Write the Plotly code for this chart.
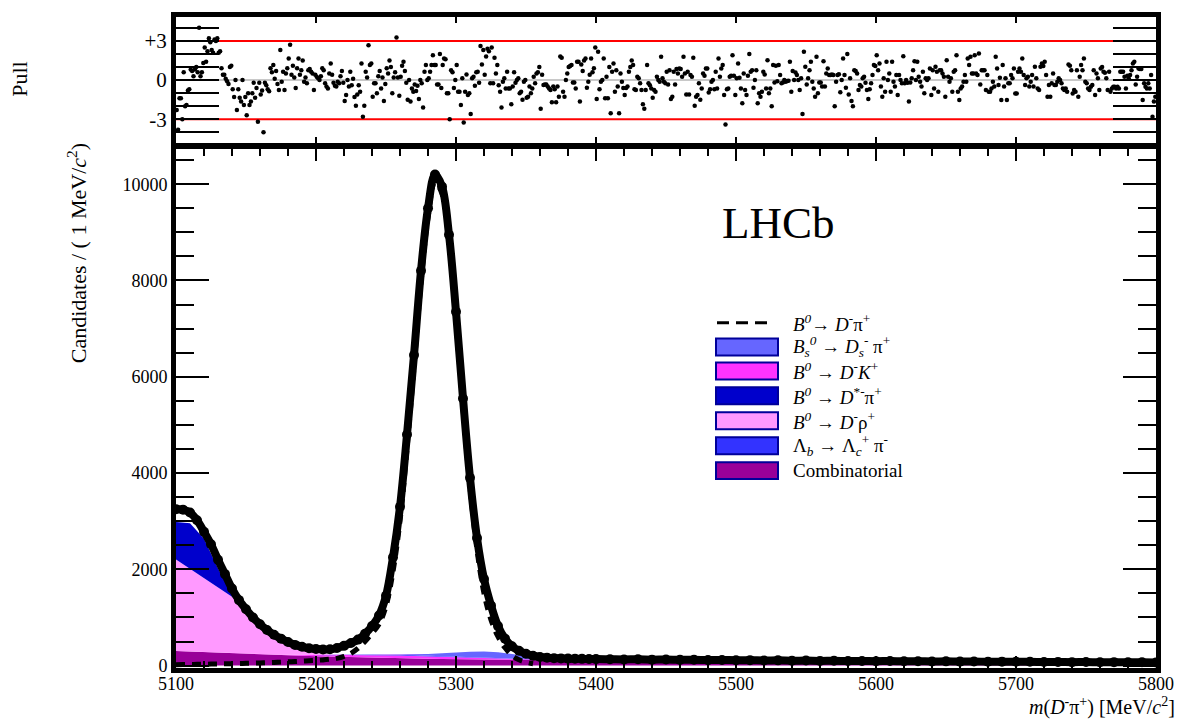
import plotly.graph_objects as go

# ---------------- data ----------------
data_x = [5100, 5105, 5110, 5115, 5120, 5125, 5130, 5135, 5140, 5145,
          5150, 5155, 5160, 5165, 5170, 5175, 5180, 5185, 5190, 5195,
          5200, 5205, 5210, 5215, 5220, 5225, 5230, 5235, 5240, 5245,
          5250, 5255, 5260, 5265, 5270, 5275, 5280, 5285, 5290, 5295,
          5300, 5305, 5310, 5315, 5320, 5325, 5330, 5335, 5340, 5345,
          5350, 5355, 5360, 5365, 5370, 5375, 5380, 5385, 5390, 5395, 5400,
          5410, 5420, 5430, 5440, 5450, 5460, 5470, 5480, 5490, 5500,
          5510, 5520, 5530, 5540, 5550, 5560, 5570, 5580, 5590, 5600,
          5610, 5620, 5630, 5640, 5650, 5660, 5670, 5680, 5690, 5700,
          5710, 5720, 5730, 5740, 5750, 5760, 5770, 5780, 5790, 5800]
data_y = [3250, 3240, 3180, 3020, 2780, 2520, 2200, 1900, 1600, 1360,
          1170, 1000, 860, 740, 640, 560, 490, 430, 390, 360,
          345, 335, 340, 365, 410, 470, 540, 660, 820, 1040,
          1450, 2250, 3300, 4800, 6450, 8200, 9500, 10200, 9950, 8950,
          7350, 5550, 3900, 2650, 1800, 1250, 820, 560, 400, 310,
          245, 205, 180, 165, 155, 150, 145, 142, 140, 138, 135,
          133, 128, 131, 124, 126, 119, 121, 114, 117, 111,
          113, 106, 109, 102, 104, 98, 101, 95, 97, 92,
          94, 89, 91, 86, 88, 83, 85, 80, 82, 78,
          79, 75, 77, 72, 74, 70, 72, 68, 69, 66]

sig_x = [5100, 5105, 5110, 5115, 5120, 5125, 5130, 5135, 5140, 5145,
         5150, 5155, 5160, 5165, 5170, 5175, 5180, 5185, 5190, 5195,
         5200, 5205, 5210, 5215, 5220, 5225, 5230, 5235, 5240, 5245,
         5250, 5255, 5260, 5265, 5270, 5275, 5280, 5285, 5290, 5295,
         5300, 5305, 5310, 5315, 5320, 5325, 5330, 5335, 5340, 5345,
         5350, 5355]
sig_y = [20, 22, 24, 26, 28, 31, 34, 37, 40, 44,
         48, 52, 56, 61, 66, 72, 78, 85, 93, 100,
         108, 118, 132, 150, 190, 255, 360, 500, 670, 860,
         1230, 1950, 3000, 4500, 6200, 7950, 9300, 10050, 9800, 8800,
         7150, 5350, 3700, 2400, 1500, 950, 600, 370, 210, 120,
         70, 40]

comp_x = [5100, 5110, 5120, 5130, 5140, 5150, 5160, 5170, 5180, 5190,
          5200, 5210, 5220, 5230, 5240, 5250, 5260, 5270, 5280, 5290,
          5300, 5310, 5320, 5330, 5340, 5350, 5360, 5370, 5380, 5390,
          5400, 5450, 5500, 5550, 5600, 5650, 5700, 5750, 5800]
comb_y = [305, 292, 280, 268, 257, 246, 235, 224, 214, 204,
          195, 187, 180, 173, 166, 160, 154, 148, 143, 138,
          133, 128, 124, 120, 116, 112, 109, 106, 103, 100,
          97, 88, 80, 73, 67, 62, 57, 53, 50]
dk_y = [0, 0, 0, 0, 2, 4, 6, 9, 12, 16,
        22, 30, 38, 45, 50, 53, 54, 52, 48, 43,
        37, 30, 24, 18, 12, 8, 4, 2, 1, 0,
        0, 0, 0, 0, 0, 0, 0, 0, 0]
lb_y = [0, 0, 0, 0, 0, 0, 0, 0, 0, 2,
        4, 6, 8, 10, 12, 14, 16, 17, 18, 19,
        20, 20, 20, 19, 18, 16, 14, 12, 10, 8,
        7, 3, 1, 0, 0, 0, 0, 0, 0]
bs_y = [0, 0, 0, 0, 0, 0, 0, 0, 0, 0,
        0, 0, 0, 0, 0, 0, 5, 15, 30, 55,
        85, 110, 125, 120, 95, 60, 30, 12, 4, 1,
        0, 0, 0, 0, 0, 0, 0, 0, 0]
rho_y = [1900, 1720, 1535, 1350, 1170, 900, 570, 340, 190, 95,
         40, 15, 5, 0, 0, 0, 0, 0, 0, 0,
         0, 0, 0, 0, 0, 0, 0, 0, 0, 0,
         0, 0, 0, 0, 0, 0, 0, 0, 0]
dst_y = [780, 945, 820, 400, 40, 0, 0, 0, 0, 0,
         0, 0, 0, 0, 0, 0, 0, 0, 0, 0,
         0, 0, 0, 0, 0, 0, 0, 0, 0, 0,
         0, 0, 0, 0, 0, 0, 0, 0, 0]

# pulls, one per 1 MeV bin starting at 5100
pulls = [
    -2.3, -3.8, -1.4, -1.4, -3.0, 0.6, -2.0, -1.9, -0.8, -0.7,
    0.8, 0.7, 0.3, 0.8, 1.0, 0.6, 4.0, 0.3, 0.6, 1.3,
    2.5, 1.4, 2.2, 3.2, 2.9, 2.3, 2.1, 3.1, 3.0, 3.2,
    2.1, 2.2, 0.9, 0.4, 0.4, 0.1, -0.1, -0.3, 1.0, 1.1,
    -0.7, -1.3, 0.0, -2.3, -0.7, -1.35, -1.65, 0.0, -1.9, -1.3,
    -2.7, -1.0, -1.9, -1.65, -1.0, -0.2, -1.35, -0.6, -3.2, -0.2,
    -1.1, -0.8, -4.0, -0.2, -0.4, -0.7, -0.85, 0.9, 0.6, 1.15,
    0.1, 0.7, -0.3, -0.76, 2.3, -0.13, 0.64, -0.76, 0.5, 0.9,
    1.65, 2.7, 0.4, 1.1, 0.2, -0.6, 0.9, 1.65, 0.4, 0.76,
    1.5, -0.13, 0.2, -0.25, 0.76, 0.84, 0.64, 0.5, -0.76, 0.4,
    0.25, 0.13, 0.0, 0.3, 0.9, 0.76, -0.25, -0.5, -0.64, 0.5,
    1.27, 0.4, -0.2, -0.43, -0.5, -0.13, -0.25, 0.3, 0.7, -0.2,
    -1.6, -1.15, 0.0, -0.5, 0.64, -0.4, 0.1, -1.3, -1.96, -1.1,
    -0.4, -0.9, 1.27, -2.8, -1.96, 0.64, 0.2, 2.67, 1.15, 1.27,
    -1.27, -0.25, -0.25, -1.0, 0.3, 0.7, -0.64, 0.2, -1.6, -0.3,
    0.9, 0.5, 1.5, 1.0, -1.0, 0.2, 0.6, 3.26, 0.2, -1.2,
    0.25, 1.1, 1.4, 0.7, -0.2, -1.5, 0.0, -1.65, -0.64, -0.9,
    -0.33, -0.84, -0.43, -1.45, 0.0, -0.25, -2.1, 0.64, 1.15, 0.0,
    0.13, 0.64, 1.15, 1.9, 1.15, 1.15, -0.33, -0.33, 2.0, -0.6,
    1.15, 1.65, 1.6, -1.0, -1.0, -3.0, 0.76, 0.6, -0.6, 0.0,
    1.15, -0.9, -0.9, -1.9, 0.13, -3.25, -0.9, 0.43, -1.15, -1.0,
    -2.6, 0.13, 0.25, -0.43, 0.6, 0.64, -0.2, 2.6, 1.2, 2.3,
    0.4, 1.8, 2.4, 2.2, -0.25, 2.5, -0.25, 1.7, 0.5, 1.15,
    -0.4, -0.9, -2.1, -0.13, 0.13, -0.64, 0.64, -0.64, -0.64, -1.86,
    -0.5, 0.6, -0.2, 0.0, 0.13, -1.0, -0.9, -1.5, -0.13, 0.0,
    -1.35, -1.27, -0.5, -1.0, -0.64, 0.25, -0.25, 0.5, 0.6, 1.0,
    -2.2, 0.4, -0.38, -0.33, -0.33, -0.5, -0.64, -0.76, -1.7, -0.5,
    -0.7, -1.7, -0.5, -1.27, 1.8, 1.7, -0.9, -1.27, 0.0, 0.5,
    1.0, 1.07, 1.15, -0.18, -0.18, -0.64, 1.4, 1.4, -1.65, 1.2,
    0.7, 1.5, 1.65, -0.58, -0.13, 0.4, 1.65, 0.6, 0.9, 2.5,
    -1.45, 2.16, -0.7, -0.13, 0.0, 1.65, -1.4, 0.25, -1.4, 1.0,
    -2.54, 0.64, 1.27, -0.9, 0.76, -0.5, -2.54, 0.5, -0.13, -0.6,
    -1.15, -0.6, -0.5, 0.64, 1.0, 1.5, 1.15, -0.7, -0.76, 0.25,
    0.13, -0.25, -0.76, -1.86, -2.2, -0.76, 1.15, -0.25, -0.4, -0.64,
    -1.35, -0.76, -0.9, 0.25, 0.0, -0.13, 1.78, 0.13, -0.13, -0.25,
    0.64, -0.33, 0.76, -1.45, -1.27, 0.64, -0.33, 0.84, 0.5, 0.89,
    0.84, 0.25, 1.78, 0.5, -1.1, 0.64, -1.1, 0.38, 0.25, 1.7,
    -1.96, -1.27, -1.15, -0.25, -1.5, -0.64, 0.5, 0.33, 0.89, 0.89,
    -0.95, -0.7, -0.13, 0.0, -0.7, 0.64, -0.64, 1.65, 0.25, 0.89,
    1.15, -1.15, -3.4, -0.7, -0.64, 0.25, 0.33, 1.91, 0.33, -1.15,
    0.13, 1.27, 0.18, -0.64, -1.78, 0.5, -0.76, -1.15, 0.33, 2.0,
    0.64, 0.76, -0.58, 0.0, 0.76, -1.78, -1.0, -1.27, -0.9, 0.64,
    0.43, -0.64, 1.52, -1.0, -0.64, -2.0, 1.15, -0.18, 1.1, -0.1,
    1.15, 0.38, -0.25, -0.18, 0.0, -0.13, -0.08, -0.05, 1.4, -0.9,
    0.7, 0.0, 0.58, 0.38, 0.0, -0.76, 0.13, -2.6, 2.16, 1.02,
    -0.33, 0.13, 0.76, 1.4, -0.13, -0.64, -1.27, 1.78, -1.0, -0.18,
    -0.18, -0.5, 1.45, -0.5, 0.5, 0.89, 0.38, 0.38, 0.43, 0.38,
    -2.0, -0.13, 0.38, 0.45, -0.94, 0.0, 1.65, 0.38, -0.58, 2.0,
    -1.1, 0.13, -1.6, -2.0, 0.76, 0.69, 0.5, -0.76, -0.38, -0.5,
    0.13, 0.25, -0.2, -0.76, -1.45, -0.7, -0.25, 0.38, 1.15, 1.07,
    1.91, 0.76, 1.27, -0.5, -1.27, 0.13, -0.9, 1.4, 0.0, 0.5,
    -0.9, 1.4, -0.13, -0.5, 0.38, -1.15, 0.38, 0.0, -0.25, 1.83,
    -0.25, 0.0, -0.2, -1.65, -0.18, 0.13, 0.76, 1.45, 0.0, 1.4,
    0.25, -0.13, -0.5, 0.64, -1.0, 0.13, 0.0, 0.13, 0.89, -1.15,
    0.76, -0.64, 1.02, 0.64, -0.9, 0.76, 0.76, 0.5, 0.25, -1.27,
    1.52, 0.25, -0.13, 0.13, -0.89, 0.64, 0.76, 1.91, -0.89, -1.52,
    -0.64, -0.5, -0.13, 0.38, -0.13, 1.65, 1.15, 1.78, 0.5, 0.5,
    1.91, 0.5, 0.38, 2.03, -0.33, 0.76, 0.76, 0.76, -0.76, 0.38,
    -0.89, -0.89, -0.64, -0.13, -0.5, 1.78, 0.89, -0.38, 0.18, -1.52,
    1.15, -0.5, 0.13, -1.52, -0.25, -0.25, 0.38, 0.13, 0.89, -1.02,
    -1.02, 0.64, 0.89, 0.64, 1.65, 0.38, -0.38, 0.13, 0.25, -0.5,
    -0.13, 0.38, -0.5, 1.02, 0.13, -0.64, -0.76, 1.02, 1.27, 1.07,
    1.4, 0.38, -1.27, -0.38, -1.27, -0.25, 0.51, -0.38, -0.38, -0.13,
    0.13, 0.0, -0.25, -0.64, -0.76, -0.64, -0.89, 1.19, 1.09, 0.76,
    -1.02, -0.76, -0.89, 0.76, -1.27, 0.25, 1.15, 0.76, 1.65, -0.13,
    -0.25, -0.64, -0.76, -0.51, -0.38, 0.76, -1.15, 0.5, 0.13, -0.76,
    0.89, 1.0, 0.64, 0.56, 0.13, -0.76, 0.64, -0.89, -0.64, -0.51,
    -0.51, -0.64, -0.51, -0.64, 0.64, 0.64, 0.64, 0.25, -0.64, 0.33,
    0.13, 0.38, 0.76, 1.27, 1.4, -0.33, 0.25, 0.89, 0.84, 0.84,
    -1.52, -0.25, -0.51, -0.64, -0.25, -0.64, 0.38, -2.8, -1.65, -1.27,
]
pull_x = [5100.5 + i for i in range(len(pulls))]

pull_ticks = [-4, -3, -2, -1, 0, 1, 2, 3, 4]
pull_ticktext = ["", "-3", "", "", "0", "", "", "+3", ""]

legend_labels = [
    "<i>B</i><sup><i>0</i></sup>→ <i>D</i><sup>-</sup>π<sup>+</sup>",
    "<i>B</i><sub><i>s</i></sub><sup><i>0</i></sup> → <i>D</i><sub><i>s</i></sub><sup>-</sup> π<sup>+</sup>",
    "<i>B</i><sup><i>0</i></sup> → <i>D</i><sup>-</sup><i>K</i><sup>+</sup>",
    "<i>B</i><sup><i>0</i></sup> → <i>D</i><sup>*-</sup>π<sup>+</sup>",
    "<i>B</i><sup><i>0</i></sup> → <i>D</i><sup>-</sup>ρ<sup>+</sup>",
    "Λ<sub><i>b</i></sub> → Λ<sub><i>c</i></sub><sup>+</sup> π<sup>-</sup>",
    "Combinatorial",
]
legend_colors = [None, "#6666ff", "#ff33ff", "#0000cc", "#ff99ff", "#3333ff", "#990099"]

# ---------------- figure ----------------
FONT = "Liberation Serif"
W, H = 1193, 722
ML, MR, MT, MB = 176, 37, 15, 54
PW, PH = W - ML - MR, H - MT - MB


def px2paper(px, py):
    return (px - ML) / PW, (H - MB - py) / PH


fig = go.Figure()

stack = [("Combinatorial", comb_y, "#990099"),
         ("DK", dk_y, "#ff33ff"),
         ("Lb", lb_y, "#3333ff"),
         ("Bs", bs_y, "#6666ff"),
         ("Drho", rho_y, "#ff99ff"),
         ("Dstpi", dst_y, "#0000cc")]
for name, yv, col in stack:
    fig.add_trace(go.Scatter(x=comp_x, y=yv, mode="lines", stackgroup="bkg",
                             line=dict(width=0, color=col), fillcolor=col,
                             name=name, showlegend=False, hoverinfo="skip",
                             xaxis="x", yaxis="y"))

fig.add_trace(go.Scatter(x=sig_x, y=sig_y, mode="lines",
                         line=dict(color="black", width=5, dash="9px,7px", shape="spline"),
                         showlegend=False, xaxis="x", yaxis="y"))

fig.add_trace(go.Scatter(x=data_x, y=data_y, mode="lines+markers",
                         line=dict(color="black", width=8, shape="spline"),
                         marker=dict(color="black", size=10),
                         showlegend=False, xaxis="x", yaxis="y"))

fig.add_trace(go.Scatter(x=pull_x, y=pulls, mode="markers",
                         marker=dict(color="black", size=4.5),
                         showlegend=False, xaxis="x2", yaxis="y2"))

axis_common = dict(showline=True, linewidth=5, linecolor="black", mirror="ticks",
                   ticks="inside", tickcolor="black", showgrid=False, zeroline=False,
                   tickfont=dict(family=FONT, size=18, color="black"))

main_top = px2paper(0, 147)[1]
pull_bot = px2paper(0, 141)[1]

fig.update_layout(
    width=W, height=H,
    margin=dict(l=ML, r=MR, t=MT, b=MB),
    paper_bgcolor="white", plot_bgcolor="white",
    showlegend=False,
    xaxis=dict(axis_common, domain=[0, 1], anchor="y", range=[5100, 5800],
               tick0=5100, dtick=100, ticklen=12, tickwidth=2, tickformat="d",
               ticklabelstandoff=-5,
               minor=dict(tick0=5100, dtick=20, ticklen=7, tickwidth=1.5,
                          ticks="inside", tickcolor="black", showgrid=False)),
    yaxis=dict(axis_common, domain=[0, main_top], anchor="x", range=[-50, 10740],
               tick0=0, dtick=2000, ticklen=33, tickwidth=2, tickformat="d",
               minor=dict(tick0=0, dtick=500, ticklen=18, tickwidth=1.5,
                          ticks="inside", tickcolor="black", showgrid=False)),
    xaxis2=dict(axis_common, domain=[0, 1], anchor="y2", matches="x",
                range=[5100, 5800], showticklabels=False,
                tick0=5100, dtick=100, ticklen=6, tickwidth=2),
    yaxis2=dict(axis_common, domain=[pull_bot, 1], anchor="x2", range=[-4.79, 4.83],
                tickmode="array", tickvals=pull_ticks, ticktext=pull_ticktext,
                ticklen=43, tickwidth=2,
                tickfont=dict(family=FONT, size=21, color="black")),
)

# pull reference lines
shapes = [
    dict(type="line", xref="x2 domain", yref="y2", x0=0, x1=1, y0=0, y1=0,
         line=dict(color="#c8c8c8", width=2), layer="below"),
    dict(type="line", xref="x2 domain", yref="y2", x0=0, x1=1, y0=3, y1=3,
         line=dict(color="red", width=2), layer="below"),
    dict(type="line", xref="x2 domain", yref="y2", x0=0, x1=1, y0=-3, y1=-3,
         line=dict(color="red", width=2), layer="below"),
]

# legend (drawn manually: swatches + labels)
row_y = [321.7, 346, 370, 395, 420, 445, 470]
sw_x0, sw_x1, txt_x = 716, 778, 791
annotations = []
for i, (lab, col) in enumerate(zip(legend_labels, legend_colors)):
    yc = row_y[i]
    if col is None:
        xa, ya = px2paper(717, yc)
        xb, _ = px2paper(772, yc)
        shapes.append(dict(type="line", xref="paper", yref="paper", x0=xa, x1=xb, y0=ya, y1=ya,
                           line=dict(color="black", width=3, dash="12px,7px")))
    else:
        xa, ya = px2paper(sw_x0, yc + 8.5)
        xb, yb = px2paper(sw_x1, yc - 8.5)
        shapes.append(dict(type="rect", xref="paper", yref="paper", x0=xa, x1=xb, y0=ya, y1=yb,
                           fillcolor=col, line=dict(color="#000099", width=2)))
    tx, ty = px2paper(txt_x, yc)
    annotations.append(dict(text=lab, xref="paper", yref="paper", x=tx, y=ty,
                            xanchor="left", yanchor="middle", showarrow=False,
                            font=dict(family=FONT, size=19, color="black")))

lx, ly = px2paper(778, 222)
annotations.append(dict(text="LHCb", xref="paper", yref="paper", x=lx, y=ly,
                        xanchor="center", yanchor="middle", showarrow=False,
                        font=dict(family=FONT, size=45, color="black")))
yx, yy = px2paper(77, 252)
annotations.append(dict(text="Candidates / ( 1 MeV/<i>c</i><sup>2</sup>)", xref="paper", yref="paper",
                        x=yx, y=yy, xanchor="center", yanchor="middle", textangle=-90,
                        showarrow=False, font=dict(family=FONT, size=22, color="black")))
px_, py_ = px2paper(19.5, 77.5)
annotations.append(dict(text="Pull", xref="paper", yref="paper", x=px_, y=py_,
                        xanchor="center", yanchor="middle", textangle=-90,
                        showarrow=False, font=dict(family=FONT, size=22, color="black")))
xx, xy = px2paper(1177, 707)
annotations.append(dict(text="<i>m</i>(<i>D</i><sup>-</sup>π<sup>+</sup>) [MeV/<i>c</i><sup>2</sup>]",
                        xref="paper", yref="paper", x=xx, y=xy, xanchor="right", yanchor="middle",
                        showarrow=False, font=dict(family=FONT, size=20, color="black")))

fig.update_layout(shapes=shapes, annotations=annotations)

fig.write_html("out.html")
